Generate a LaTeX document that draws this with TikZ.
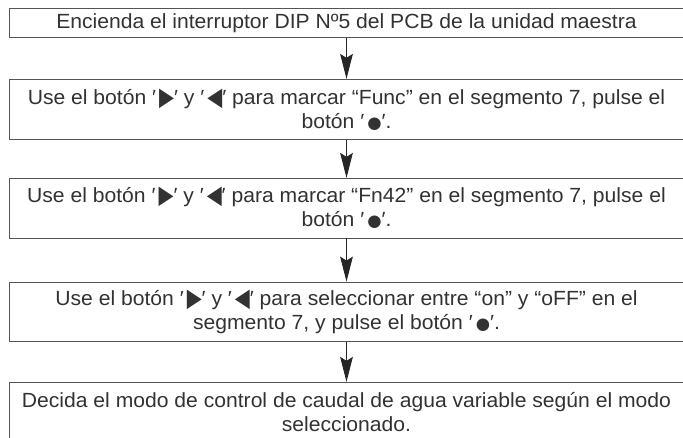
\documentclass[tikz,border=0pt]{standalone}
\usepackage{fontspec}
\setmainfont{Liberation Sans}[FakeStretch=1.03]
\newfontfamily\symfont{DejaVu Sans}
\usetikzlibrary{arrows.meta}
\definecolor{textgray}{RGB}{50,50,50}
\definecolor{linegray}{RGB}{85,85,85}
\newcommand{\myq}{′}
\newcommand{\rtri}{\myq\hspace{3pt}\raisebox{-1pt}{\scalebox{0.95}[1.25]{\symfont ▶}}\myq}
\newcommand{\ltri}{\myq\hspace{3pt}\raisebox{-1pt}{\scalebox{0.95}[1.25]{\symfont ◀}}\myq}
\newcommand{\bdot}{\myq\hspace{3pt}\scalebox{0.8}{\symfont ●}\myq}
\begin{document}
\begin{tikzpicture}[x=1pt,y=-1pt,
  font=\fontsize{20.5}{24}\selectfont,
  stepbox/.style={draw=linegray, line width=0.9pt, minimum width=675pt, inner sep=0pt, align=center, text=textgray},
  flow/.style={draw=black!85, line width=0.9pt, -{Stealth[length=25pt,width=12.7pt,inset=4pt]}}]
\clip (0,0) rectangle (683,438);
\node[stepbox, minimum height=29pt] (b1) at (346.5,23.2)
  {Encienda el interruptor DIP Nº5 del PCB de la unidad maestra};
\node[stepbox, minimum height=60pt] (b2) at (346.5,109.3)
  {Use el botón \rtri{} y \ltri{} para marcar “Func” en el segmento 7, pulse el\\botón \bdot.};
\node[stepbox, minimum height=59.7pt] (b3) at (346.5,208.2)
  {Use el botón \rtri{} y \ltri{} para marcar “Fn42” en el segmento 7, pulse el\\botón \bdot.};
\node[stepbox, minimum height=59.3pt] (b4) at (346.5,311.7)
  {Use el botón \rtri{} y \ltri{} para seleccionar entre “on” y “oFF” en el\\segmento 7, y pulse el botón \bdot.};
\node[stepbox, minimum height=60pt] (b5) at (346.5,412.3)
  {Decida el modo de control de caudal de agua variable según el modo\\seleccionado.};
\draw[flow] (b1) -- (b2);
\draw[flow] (b2) -- (b3);
\draw[flow] (b3) -- (b4);
\draw[flow] (b4) -- (b5);
\end{tikzpicture}
\end{document}
